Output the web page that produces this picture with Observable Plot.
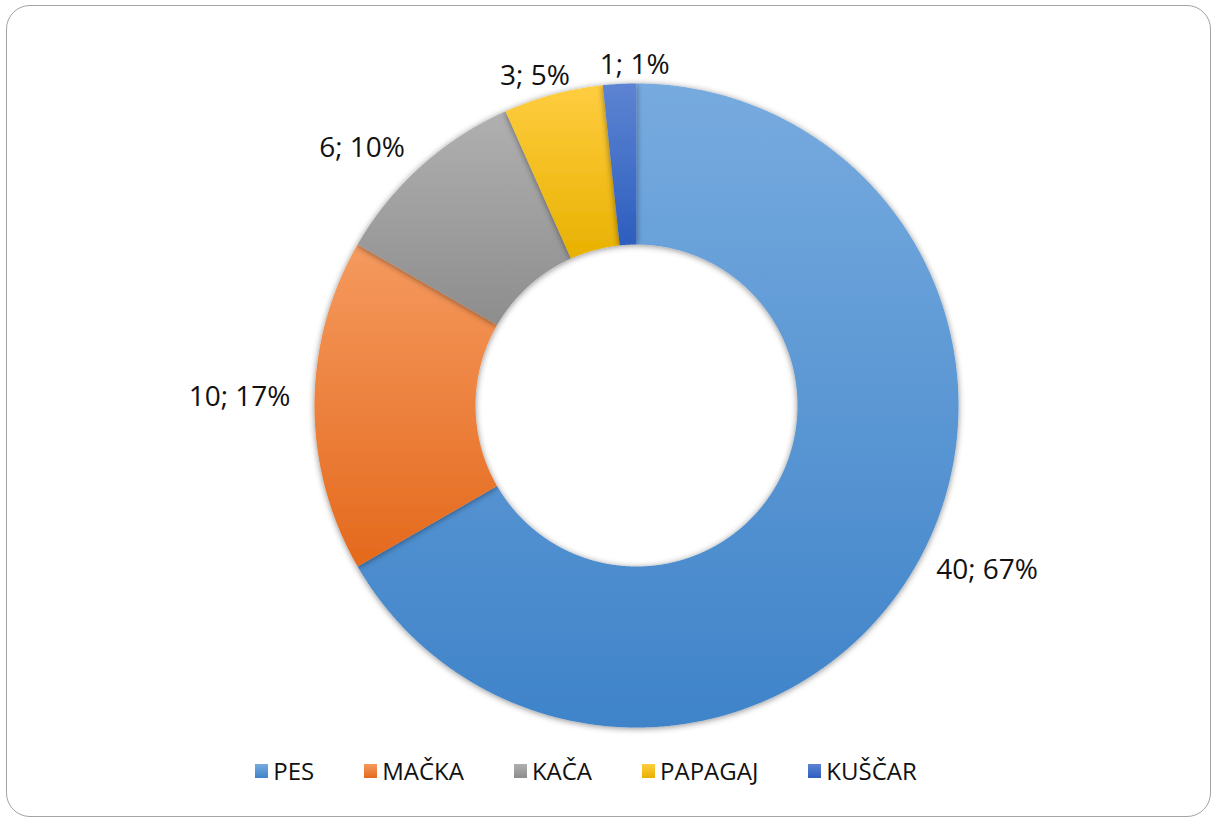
<!DOCTYPE html>
<html>
<head>
<meta charset="utf-8">
<script src="https://cdn.jsdelivr.net/npm/d3@7"></script>
<script src="https://cdn.jsdelivr.net/npm/@observablehq/plot@0.6"></script>
<style>
  html, body { margin: 0; padding: 0; background: #fff; }
  body { width: 1212px; height: 818px; position: relative; overflow: hidden; font-family: "Open Sans", sans-serif; }
  #frame { position: absolute; left: 6px; top: 5px; width: 1205px; height: 812px; box-sizing: border-box;
           border: 1.5px solid #a3a3a3; border-radius: 24px; pointer-events: none; }
  #chart { position: absolute; left: 0; top: 0; }
  #legend { position: absolute; left: 0; top: 754px; width: 1172px; display: flex; justify-content: center;
            gap: 50px; font-size: 24px; color: #111; }
  .item { display: flex; align-items: center; gap: 5px; }
  .sw { width: 13px; height: 14px; display: inline-block; }
</style>
</head>
<body>
<div id="chart"></div>
<div id="legend"></div>
<div id="frame"></div>
<script>
// ---- data ----
const categories = ["PES", "MAČKA", "KAČA", "PAPAGAJ", "KUŠČAR"];
const values = [40, 10, 6, 3, 1];
const percents = [67, 17, 10, 5, 1];
// ---- palette (gradient top / bottom) ----
const colorTop = ["#77abdf", "#f59a5f", "#b0b0b0", "#ffcd40", "#5d84d2"];
const colorBottom = ["#3f83c9", "#e4691c", "#8d8d8d", "#e8b100", "#2d5ebe"];

const W = 1212, H = 750, cx = 636, cy = 405, R = 322, innerRatio = 0.5;
const labelFont = 28;

const pie = d3.pie().sort(null).value(d => d.value);
const arcs = pie(categories.map((c, i) => ({name: c, value: values[i], pct: percents[i], i})));

function slicePoints(a) {
  const pts = [];
  const step = Math.PI / 720;
  const n = Math.max(2, Math.ceil((a.endAngle - a.startAngle) / step));
  for (let k = 0; k <= n; k++) {
    const t = a.startAngle + (a.endAngle - a.startAngle) * k / n;
    pts.push({x: Math.sin(t), y: Math.cos(t)});
  }
  for (let k = n; k >= 0; k--) {
    const t = a.startAngle + (a.endAngle - a.startAngle) * k / n;
    pts.push({x: innerRatio * Math.sin(t), y: innerRatio * Math.cos(t)});
  }
  return pts;
}

// label layout: outside the ring at each slice's mid-angle
const measureCtx = document.createElement("canvas").getContext("2d");
measureCtx.font = `${labelFont}px "Open Sans"`;
const labels = arcs.map(a => {
  const m = (a.startAngle + a.endAngle) / 2;
  const s = Math.sin(m), c = Math.cos(m);
  const side = s > 0.3 ? "start" : s < -0.3 ? "end" : "middle";
  const r = side === "middle" ? (R + 10) / R : (R + 24) / R;
  const text = `${a.data.value}; ${a.data.pct}%`;
  return {x: r * s, y: r * c, text, side, w: measureCtx.measureText(text).width / R,
          anchor: (side === "middle" || c <= 0.01) ? "bottom" : "middle"};
});
// spread apart top labels that collide
const topLabels = labels.filter(l => l.side === "middle").sort((a, b) => a.x - b.x);
const minGap = 30 / R;
for (let k = 1; k < topLabels.length; k++) {
  const a = topLabels[k - 1], b = topLabels[k];
  const overlap = (a.x + a.w / 2 + minGap) - (b.x - b.w / 2);
  if (overlap > 0) { a.x -= overlap / 2; b.x += overlap / 2; }
}

const defs = () => {
  const d = d3.create("svg:defs");
  colorTop.forEach((c, i) => {
    const g = d.append("linearGradient").attr("id", "g" + i).attr("x1", 0).attr("y1", 0).attr("x2", 0).attr("y2", 1);
    g.append("stop").attr("offset", "0%").attr("stop-color", c);
    g.append("stop").attr("offset", "100%").attr("stop-color", colorBottom[i]);
  });
  const f = d.append("filter").attr("id", "shadow").attr("x", "-20%").attr("y", "-20%").attr("width", "140%").attr("height", "140%");
  f.append("feDropShadow").attr("dx", 0).attr("dy", 1).attr("stdDeviation", 3)
    .attr("flood-color", "#000").attr("flood-opacity", 0.45);
  return d.node();
};

const textMarks = [];
for (const side of ["start", "end", "middle"]) {
  for (const anchor of ["middle", "bottom"]) {
    const sub = labels.filter(l => l.side === side && l.anchor === anchor);
    if (sub.length) textMarks.push(Plot.text(sub, {
      x: "x", y: "y", text: "text", textAnchor: side, lineAnchor: anchor,
      fontSize: labelFont, fill: "#111", fontFamily: "Open Sans"
    }));
  }
}

const plot = Plot.plot({
  width: W, height: H,
  margin: 0,
  x: {domain: [-cx / R, (W - cx) / R], range: [0, W], axis: null},
  y: {domain: [-(H - cy) / R, cy / R], range: [H, 0], axis: null},
  style: {background: "transparent", overflow: "visible"},
  marks: [
    defs,
    ...arcs.map((a, i) => Plot.line(slicePoints(a), {
      x: "x", y: "y", fill: `url(#g${i})`, stroke: "none", curve: "linear-closed"
    })),
    ...textMarks
  ]
});
d3.select(plot).selectAll('g[aria-label="line"]').attr("filter", "url(#shadow)");
document.getElementById("chart").appendChild(plot);

// legend
const legend = d3.select("#legend");
categories.forEach((c, i) => {
  const it = legend.append("div").attr("class", "item");
  it.append("span").attr("class", "sw")
    .style("background", `linear-gradient(${colorTop[i]}, ${colorBottom[i]})`);
  it.append("span").text(c);
});
</script>
</body>
</html>
